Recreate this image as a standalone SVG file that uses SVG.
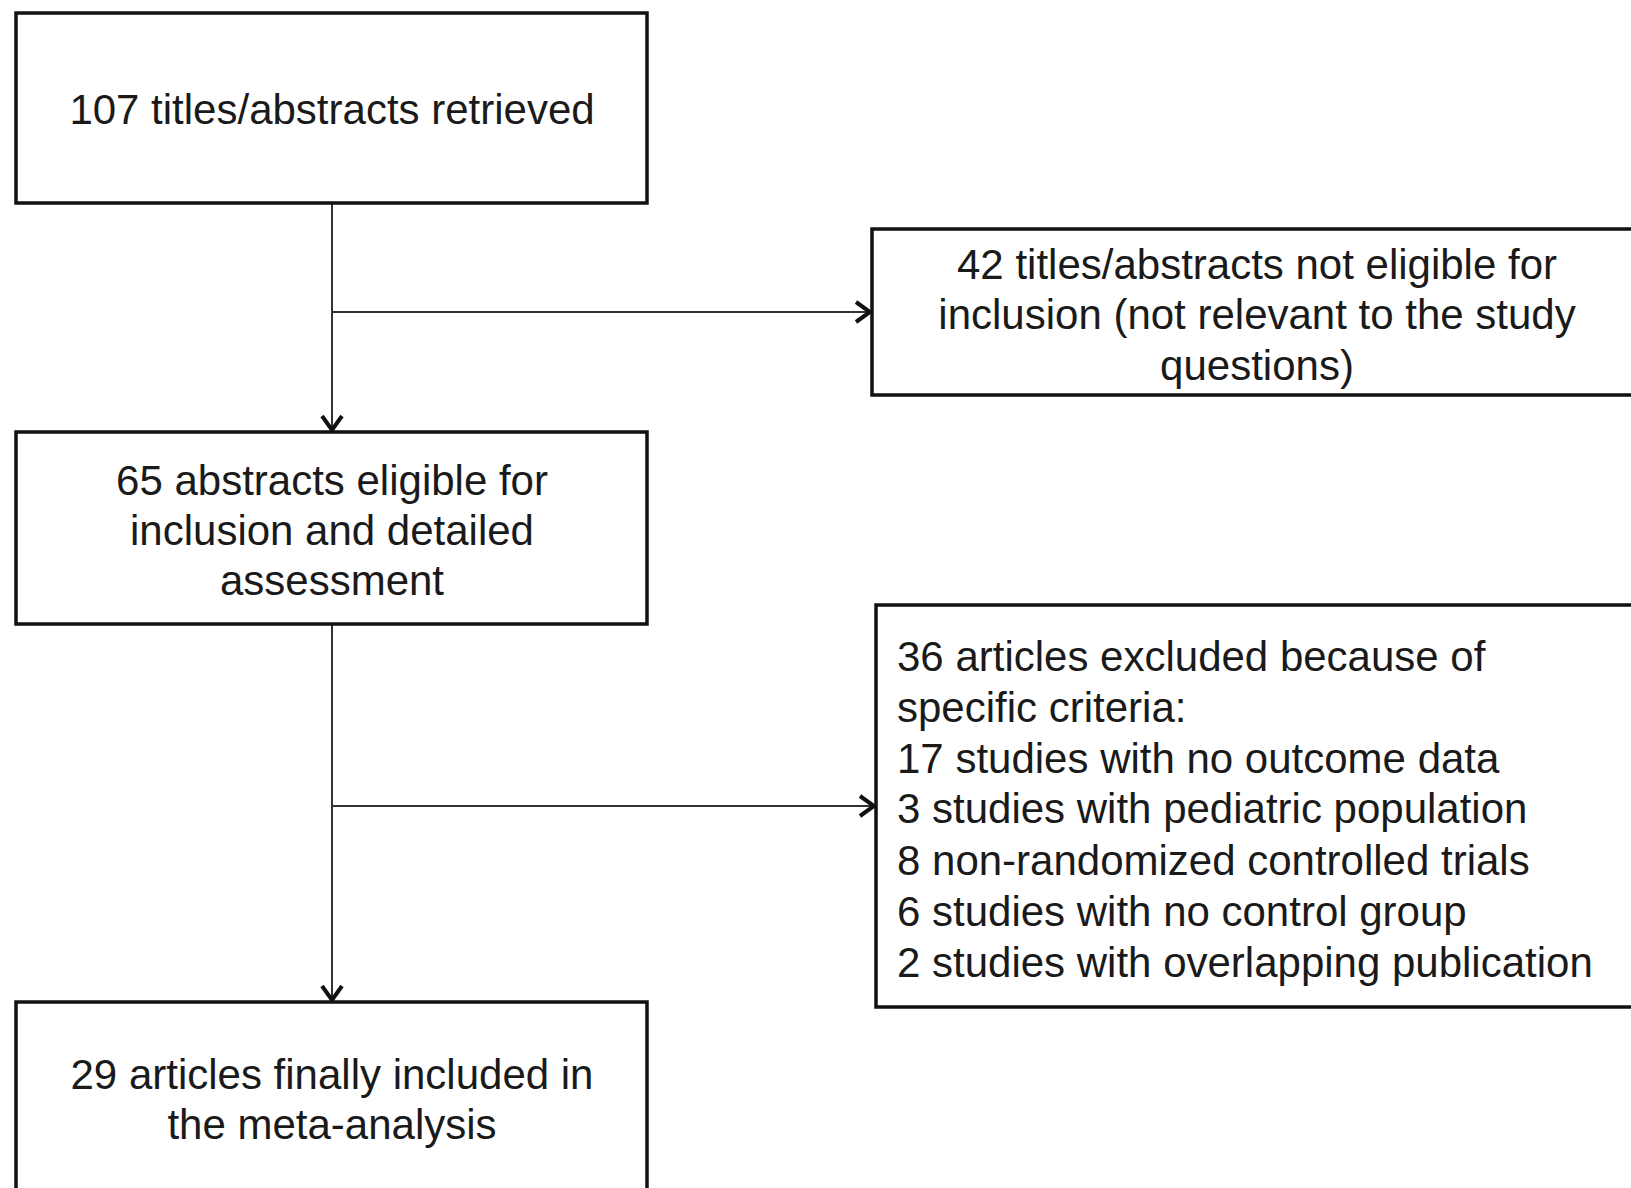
<svg xmlns="http://www.w3.org/2000/svg" width="1631" height="1188" viewBox="0 0 1631 1188">
<style>
.box{fill:#fff;stroke:#111;stroke-width:3.5}
.t{font-family:"Liberation Sans",Arial,sans-serif;font-size:42px;fill:#1a1a1a}
.c{text-anchor:middle}
.conn{fill:none;stroke:#333;stroke-width:2}
</style>
<defs>
<marker id="arr" viewBox="0 0 20 26" refX="18" refY="13" markerWidth="20" markerHeight="26" markerUnits="userSpaceOnUse" orient="auto">
<path d="M3,3 L17,13 L3,23" fill="none" stroke="#111" stroke-width="4"/>
</marker>
</defs>
<rect width="1631" height="1188" fill="#fff"/>
<g id="connectors">
<line class="conn" x1="332" y1="203" x2="332" y2="431" marker-end="url(#arr)"/>
<line class="conn" x1="332" y1="312" x2="871" y2="312" marker-end="url(#arr)"/>
<line class="conn" x1="332" y1="624" x2="332" y2="1001" marker-end="url(#arr)"/>
<line class="conn" x1="332" y1="806" x2="875" y2="806" marker-end="url(#arr)"/>
</g>
<g id="n1">
<rect class="box" x="16" y="13" width="631" height="190"/>
<text class="t c" x="332" y="124">107 titles/abstracts retrieved</text>
</g>
<g id="n2">
<rect class="box" x="872" y="229" width="780" height="166"/>
<text class="t c" x="1257" y="279">42 titles/abstracts not eligible for</text>
<text class="t c" x="1257" y="329">inclusion (not relevant to the study</text>
<text class="t c" x="1257" y="380">questions)</text>
</g>
<g id="n3">
<rect class="box" x="16" y="432" width="631" height="192"/>
<text class="t c" x="332" y="495">65 abstracts eligible for</text>
<text class="t c" x="332" y="545">inclusion and detailed</text>
<text class="t c" x="332" y="595">assessment</text>
</g>
<g id="n4">
<rect class="box" x="876" y="605" width="780" height="402"/>
<text class="t" x="897" y="671">36 articles excluded because of</text>
<text class="t" x="897" y="722">specific criteria:</text>
<text class="t" x="897" y="773">17 studies with no outcome data</text>
<text class="t" x="897" y="823">3 studies with pediatric population</text>
<text class="t" x="897" y="875">8 non-randomized controlled trials</text>
<text class="t" x="897" y="926">6 studies with no control group</text>
<text class="t" x="897" y="977">2 studies with overlapping publication</text>
</g>
<g id="n5">
<rect class="box" x="16" y="1002" width="631" height="220"/>
<text class="t c" x="332" y="1089">29 articles finally included in</text>
<text class="t c" x="332" y="1139">the meta-analysis</text>
</g>
</svg>
